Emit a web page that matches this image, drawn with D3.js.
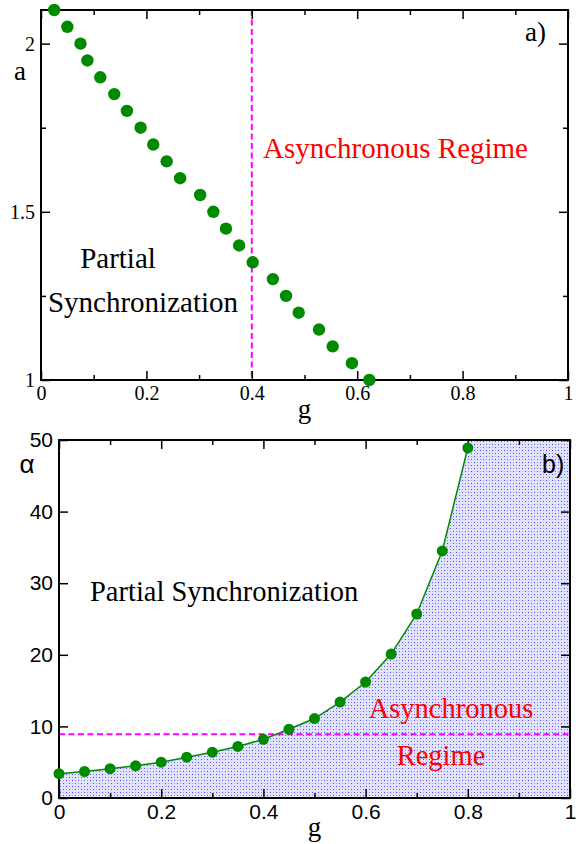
<!DOCTYPE html>
<html>
<head>
<meta charset="utf-8">
<script src="https://cdn.jsdelivr.net/npm/d3@7"></script>
<style>
  body { margin: 0; background: #fff; }
  svg { display: block; }
</style>
</head>
<body>
<script>
// ---- panel a) data : coupling g vs parameter a
var topG = [0.025, 0.05, 0.075, 0.088, 0.1125, 0.139, 0.163, 0.189, 0.213, 0.2385, 0.264, 0.302,
            0.327, 0.351, 0.376, 0.4017, 0.44, 0.465, 0.489, 0.5275, 0.5535, 0.59, 0.623];
var topA = [2.1, 2.05, 2.0, 1.95, 1.9, 1.85, 1.8, 1.75, 1.7, 1.65, 1.6, 1.55,
            1.5, 1.45, 1.4, 1.35, 1.3, 1.25, 1.2, 1.15, 1.1, 1.05, 1.0];
var topXTicks = [0, 0.2, 0.4, 0.6, 0.8, 1];
var topXMinor = [0.1, 0.3, 0.5, 0.7, 0.9];
var topYTicks = [1, 1.5, 2];
var topYMinor = [1.25, 1.75];
var topVLine = 0.4;

// ---- panel b) data : coupling g vs alpha
var botG = [0, 0.05, 0.1, 0.15, 0.2, 0.25, 0.3, 0.35, 0.4, 0.45, 0.5, 0.55, 0.6, 0.65, 0.7, 0.75, 0.8];
var botAlpha = [3.4, 3.7, 4.1, 4.5, 5.0, 5.7, 6.4, 7.2, 8.2, 9.6, 11.1, 13.4, 16.2, 20.1, 25.7, 34.5, 48.9];
var botXTicks = [0, 0.2, 0.4, 0.6, 0.8, 1];
var botXMinor = [0.1, 0.3, 0.5, 0.7, 0.9];
var botYTicks = [0, 10, 20, 30, 40, 50];
var botHLine = 8.9;

var W = 576, H = 844;
var green = "#008a00", magenta = "#ff00ff", red = "#ff0000";
var SERIF = "'Liberation Serif', 'Times New Roman', serif";
var SANS = "'Liberation Sans', Arial, sans-serif";

var svg = d3.select("body").append("svg").attr("width", W).attr("height", H);

// dotted blue fill used for the asynchronous region
var defs = svg.append("defs");
var pat = defs.append("pattern").attr("id", "dots")
    .attr("patternUnits", "userSpaceOnUse").attr("width", 6).attr("height", 6);
pat.append("rect").attr("width", 6).attr("height", 6).attr("fill", "#e2e2fa");
pat.append("rect").attr("x", 0).attr("y", 0).attr("width", 1).attr("height", 1).attr("fill", "#4a4aee");
pat.append("rect").attr("x", 3).attr("y", 3).attr("width", 1).attr("height", 1).attr("fill", "#4a4aee");
pat.append("rect").attr("x", 3).attr("y", 0).attr("width", 1).attr("height", 1).attr("fill", "#9a9af2");
pat.append("rect").attr("x", 0).attr("y", 3).attr("width", 1).attr("height", 1).attr("fill", "#9a9af2");

// frame with inward ticks on all four sides
function frame(g, x, y, xt, xm, yt, ym, family, fs, fmtX, fmtY) {
  var x0 = x.range()[0], x1 = x.range()[1], y0 = y.range()[0], y1 = y.range()[1];
  var big = 9, small = 5;
  g.append("g").attr("transform", "translate(0," + y0 + ")")
    .call(d3.axisBottom(x).tickValues(xt).tickSize(-big).tickPadding(6).tickFormat(fmtX));
  g.append("g").attr("transform", "translate(0," + y0 + ")")
    .call(d3.axisBottom(x).tickValues(xm).tickSize(-small).tickFormat(""));
  g.append("g").attr("transform", "translate(0," + y1 + ")")
    .call(d3.axisTop(x).tickValues(xt).tickSize(-big).tickFormat(""));
  g.append("g").attr("transform", "translate(0," + y1 + ")")
    .call(d3.axisTop(x).tickValues(xm).tickSize(-small).tickFormat(""));
  g.append("g").attr("transform", "translate(" + x0 + ",0)")
    .call(d3.axisLeft(y).tickValues(yt).tickSize(-big).tickPadding(6).tickFormat(fmtY));
  g.append("g").attr("transform", "translate(" + x0 + ",0)")
    .call(d3.axisLeft(y).tickValues(ym).tickSize(-small).tickFormat(""));
  g.append("g").attr("transform", "translate(" + x1 + ",0)")
    .call(d3.axisRight(y).tickValues(yt).tickSize(-big).tickFormat(""));
  g.append("g").attr("transform", "translate(" + x1 + ",0)")
    .call(d3.axisRight(y).tickValues(ym).tickSize(-small).tickFormat(""));
  g.selectAll(".domain").remove();
  g.selectAll(".tick line").attr("stroke", "#000").attr("stroke-width", 1.5);
  g.selectAll(".tick text").style("font-family", family).style("font-size", fs + "px").attr("fill", "#000");
  g.append("rect").attr("x", x0).attr("y", y1).attr("width", x1 - x0).attr("height", y0 - y1)
    .attr("fill", "none").attr("stroke", "#000").attr("stroke-width", 2);
}

var fmt = function(d) { return d3.format("")(d); };

function label(g, x, y, txt, family, fs, anchor, color) {
  return g.append("text").attr("x", x).attr("y", y)
    .attr("text-anchor", anchor || "start")
    .style("font-family", family).style("font-size", fs + "px")
    .attr("fill", color || "#000").text(txt);
}

// ================= panel a =================
var xa = d3.scaleLinear().domain([0, 1]).range([41, 568]);
var ya = d3.scaleLinear().domain([1, 2.1]).range([380, 10]);
var ga = svg.append("g");

ga.append("line")
  .attr("x1", xa(topVLine)).attr("x2", xa(topVLine))
  .attr("y1", ya(2.1)).attr("y2", ya(1))
  .attr("stroke", magenta).attr("stroke-width", 2).attr("stroke-dasharray", "6,3.5");

frame(ga, xa, ya, topXTicks, topXMinor, topYTicks, topYMinor, SERIF, 20, fmt, fmt);

ga.selectAll("circle.pt").data(topG).enter().append("circle")
  .attr("class", "pt")
  .attr("cx", function(d) { return xa(d); })
  .attr("cy", function(d, i) { return ya(topA[i]); })
  .attr("r", 6.2).attr("fill", green);

label(ga, 20, 80, "a", SERIF, 27, "middle");
label(ga, xa(0.5), 418, "g", SERIF, 27, "middle");
label(ga, 525, 41, "a)", SERIF, 27);
label(ga, 263, 158, "Asynchronous Regime", SERIF, 29, "start", red);
label(ga, 118, 268, "Partial", SERIF, 29, "middle");
label(ga, 143, 312, "Synchronization", SERIF, 29, "middle");

// ================= panel b =================
var xb = d3.scaleLinear().domain([0, 1]).range([59, 570]);
var yb = d3.scaleLinear().domain([0, 50]).range([798, 440]);
var gb = svg.append("g");

var pts = botG.map(function(d, i) { return [d, botAlpha[i]]; });
var area = pts.concat([[botG[botG.length - 1], 50], [1, 50], [1, 0], [0, 0]]);
var lineGen = d3.line().x(function(d) { return xb(d[0]); }).y(function(d) { return yb(d[1]); });
gb.append("path")
  .attr("d", lineGen(area) + "Z")
  .attr("fill", "url(#dots)").attr("shape-rendering", "crispEdges");

gb.append("line")
  .attr("x1", xb(0)).attr("x2", xb(1))
  .attr("y1", yb(botHLine)).attr("y2", yb(botHLine))
  .attr("stroke", magenta).attr("stroke-width", 2).attr("stroke-dasharray", "6,3.5");

frame(gb, xb, yb, botXTicks, botXMinor, botYTicks, [], SANS, 21, fmt, fmt);

gb.append("path")
  .attr("d", lineGen(pts))
  .attr("fill", "none").attr("stroke", green).attr("stroke-width", 1.5);

gb.selectAll("circle.pt").data(pts).enter().append("circle")
  .attr("class", "pt")
  .attr("cx", function(d) { return xb(d[0]); })
  .attr("cy", function(d) { return yb(d[1]); })
  .attr("r", 5.5).attr("fill", green);

label(gb, 27, 473, "α", SANS, 26, "middle");
label(gb, xb(0.5), 836, "g", SERIF, 27, "middle");
label(gb, 542, 473, "b)", SANS, 25);
label(gb, 90, 601, "Partial Synchronization", SERIF, 28.5);
label(gb, 451, 718, "Asynchronous", SERIF, 28.5, "middle", red);
label(gb, 441, 765, "Regime", SERIF, 28.5, "middle", red);
</script>
</body>
</html>
